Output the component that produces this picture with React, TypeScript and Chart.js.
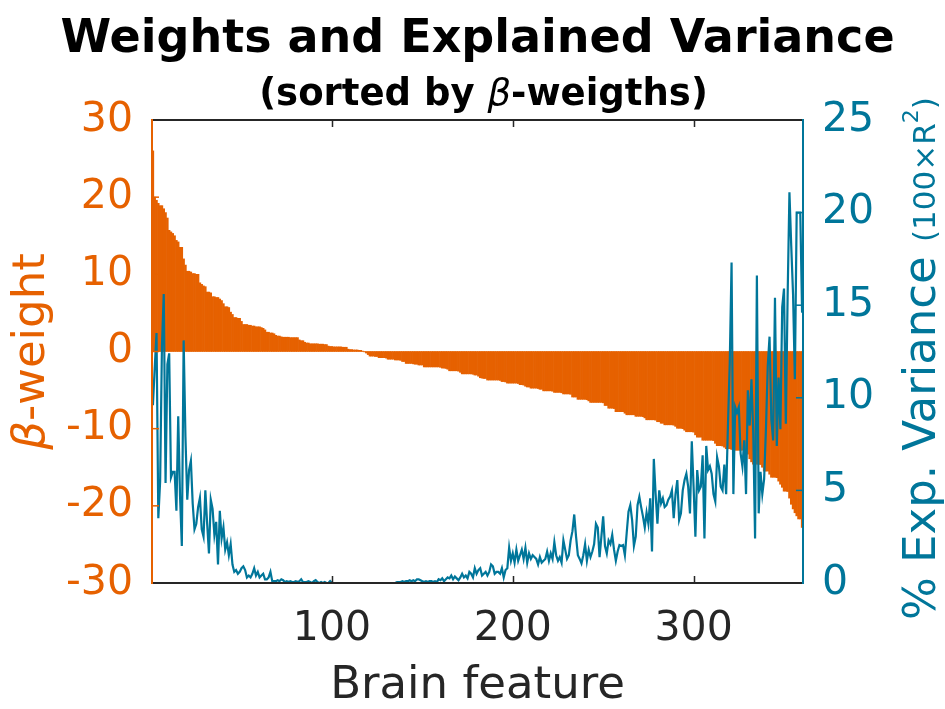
import React, { useEffect, useRef } from 'react';
import { Chart, registerables } from 'chart.js';

Chart.register(...registerables);

const W = 945;
const H = 709;
const ORANGE = '#E66100';
const TEAL = '#00769A';
const DARK = '#262626';
const FONT = '"DejaVu Sans", "Liberation Sans", sans-serif';

// beta-weights per brain feature, sorted descending
const betaWeights = [
  26.0, 20.0, 19.6, 19.2, 18.9, 18.9, 18.5, 18.0, 17.3, 15.7, 15.5, 15.3, 15.0, 14.4, 14.2, 13.5, 13.5, 12.0, 11.2, 10.4,
  10.4, 10.3, 10.1, 10.1, 10.0, 10.0, 8.9, 8.7, 8.5, 8.4, 7.7, 7.7, 7.6, 7.1, 7.1, 7.0, 7.0, 6.8, 6.6, 6.2,
  5.8, 5.8, 5.7, 5.1, 4.8, 4.4, 4.4, 4.3, 4.3, 3.9, 3.5, 3.5, 3.5, 3.4, 3.4, 3.3, 3.3, 3.2, 3.2, 3.2,
  3.1, 3.0, 2.8, 2.5, 2.5, 2.4, 2.4, 2.3, 2.1, 2.0, 2.0, 1.9, 1.85, 1.85, 1.85, 1.85, 1.8, 1.8, 1.8, 1.8,
  1.8, 1.5, 1.4, 1.4, 1.2, 1.1, 1.1, 1.0, 1.0, 1.0, 1.0, 1.0, 0.95, 0.95, 0.95, 0.9, 0.9, 0.7, 0.65, 0.65,
  0.6, 0.6, 0.6, 0.6, 0.6, 0.55, 0.55, 0.55, 0.3, 0.25, 0.25, 0.2, 0.2, 0.2, 0.15, 0.15, 0.05, -0.05, -0.2, -0.4,
  -0.6, -0.6, -0.6, -0.65, -0.65, -0.8, -0.8, -0.8, -0.8, -0.85, -1.0, -1.0, -1.0, -1.0, -1.1, -1.1, -1.1, -1.15, -1.3, -1.3,
  -1.55, -1.55, -1.55, -1.55, -1.6, -1.65, -1.65, -1.75, -1.75, -1.75, -2.0, -2.0, -2.0, -2.0, -2.0, -2.0, -2.0, -2.0, -2.0, -2.05,
  -2.15, -2.15, -2.2, -2.3, -2.5, -2.5, -2.5, -2.5, -2.5, -2.55, -2.7, -2.9, -2.9, -2.9, -2.9, -2.9, -2.9, -2.95, -3.05, -3.05,
  -3.2, -3.4, -3.45, -3.5, -3.5, -3.7, -3.7, -3.7, -3.7, -3.7, -3.7, -3.7, -3.75, -3.9, -3.9, -3.95, -4.1, -4.1, -4.1, -4.1,
  -4.1, -4.1, -4.15, -4.3, -4.3, -4.35, -4.5, -4.6, -4.6, -4.75, -4.75, -4.75, -4.75, -4.8, -4.9, -4.9, -5.1, -5.1, -5.1, -5.1,
  -5.1, -5.15, -5.3, -5.3, -5.3, -5.3, -5.35, -5.5, -5.5, -5.5, -5.5, -5.55, -5.9, -5.9, -5.9, -6.2, -6.2, -6.2, -6.2, -6.2,
  -6.25, -6.4, -6.6, -6.6, -6.6, -6.6, -6.6, -6.6, -6.6, -6.65, -7.0, -7.0, -7.35, -7.35, -7.35, -7.4, -7.8, -7.8, -7.8, -7.8,
  -7.8, -8.0, -8.2, -8.2, -8.2, -8.2, -8.2, -8.4, -8.4, -8.4, -8.4, -8.45, -8.6, -8.85, -8.85, -8.85, -8.85, -8.85, -8.9, -9.1,
  -9.1, -9.3, -9.3, -9.5, -9.5, -9.5, -9.5, -9.5, -9.55, -9.7, -9.95, -9.95, -9.95, -10.0, -10.2, -10.4, -10.4, -10.4, -10.4, -10.45,
  -10.8, -11.1, -11.1, -11.1, -11.5, -11.5, -11.5, -11.5, -11.5, -11.5, -11.55, -11.9, -12.2, -12.2, -12.2, -12.25, -12.4, -12.6, -12.6, -12.6,
  -12.7, -12.8, -12.8, -12.8, -12.8, -12.8, -12.8, -12.8, -12.85, -13.3, -13.9, -14.3, -14.6, -14.6, -14.6, -14.6, -14.65, -15.0, -15.5, -15.5,
  -15.5, -15.9, -16.3, -16.3, -16.3, -16.35, -16.8, -17.2, -17.6, -18.1, -18.1, -18.15, -19.0, -19.8, -20.4, -20.9, -21.3, -21.7, -21.7, -22.8,
];

// % explained variance (100 x R^2) per brain feature, same order
const explainedVariance = [
  9.6, 11.6, 13.5, 3.5, 5.5, 12.8, 15.6, 5.4, 11.8, 12.4, 5.7, 6.0, 6.0, 3.9, 9.0, 4.7, 2.0, 13.1, 7.9, 4.5,
  6.1, 6.6, 4.3, 2.9, 3.2, 4.1, 4.6, 2.9, 2.5, 5.0, 3.2, 1.6, 4.5, 4.0, 2.6, 3.3, 1.0, 3.9, 2.4, 3.0,
  1.8, 2.2, 1.5, 2.1, 1.0, 0.6, 0.7, 0.5, 0.6, 0.8, 0.9, 0.7, 0.3, 0.4, 0.3, 0.5, 0.8, 0.4, 0.6, 0.3,
  0.4, 0.5, 0.2, 0.2, 0.3, 0.6, 0.1, 0.1, 0.1, 0.15, 0.1, 0.2, 0.15, 0.05, 0.1, 0.05, 0.1, 0.05, 0.05, 0.1,
  0.05, 0.1, 0.2, 0.05, 0.05, 0.05, 0.1, 0.05, 0, 0.1, 0.15, 0.05, 0, 0.05, 0, 0.05, 0, 0, 0.1, 0,
  0, 0, 0, 0, 0, 0, 0, 0, 0, 0, 0, 0, 0, 0, 0, 0, 0, 0, 0, 0,
  0, 0, 0, 0, 0, 0, 0, 0, 0, 0, 0, 0, 0, 0, 0, 0.05, 0.05, 0.05, 0.1, 0.05,
  0.1, 0.1, 0.15, 0.1, 0.15, 0.1, 0.2, 0.2, 0.15, 0.1, 0.05, 0.1, 0.05, 0.1, 0.1, 0.05, 0.1, 0.05, 0.2, 0.15,
  0.25, 0.1, 0.2, 0.3, 0.25, 0.4, 0.2, 0.35, 0.25, 0.15, 0.3, 0.5, 0.3, 0.4, 0.25, 0.6, 0.5, 0.3, 0.8, 0.5,
  0.7, 0.8, 0.4, 0.5, 0.6, 0.4, 0.6, 1.0, 0.9, 0.5, 0.6, 0.6, 0.5, 0.8, 0.3, 0.7, 0.8, 1.9, 1.2, 1.6,
  1.1, 1.8, 1.2, 1.5, 1.8, 1.3, 1.9, 1.1, 1.6, 1.3, 1.5, 1.4, 1.3, 1.0, 1.4, 1.1, 1.2, 1.3, 1.7, 1.2,
  1.6, 1.3, 2.2, 1.5, 1.2, 1.4, 1.1, 2.3, 1.8, 1.3, 1.5, 2.3, 2.8, 3.7, 2.5, 1.5, 1.3, 1.06, 1.5, 2.1,
  1.2, 1.8, 1.4, 1.7, 2.1, 3.2, 3.0, 1.4, 2.5, 3.6, 2.0, 1.6, 2.3, 2.1, 2.6, 1.8, 1.2, 1.7, 2.05, 2.0,
  2.05, 1.5, 2.7, 3.85, 4.2, 3.4, 2.0, 2.5, 4.2, 4.66, 4.1, 3.6, 3.0, 3.8, 3.2, 4.57, 1.7, 6.7, 4.8, 3.2,
  5.0, 4.3, 4.57, 4.1, 4.2, 4.5, 4.66, 5.0, 3.5, 4.8, 5.56, 3.4, 3.76, 5.0, 5.56, 5.9, 5.2, 3.76, 7.65, 5.2,
  2.5, 6.1, 5.0, 5.2, 6.9, 2.4, 7.4, 6.1, 6.3, 5.9, 4.8, 4.4, 6.8, 6.3, 5.2, 5.0, 6.4, 4.8, 8.5, 11.9,
  17.3, 4.8, 9.5, 9.2, 9.5, 7.0, 6.3, 7.7, 4.8, 10.4, 8.5, 11.0, 8.1, 2.4, 16.6, 3.76, 6.0, 4.8, 5.6, 8.3,
  11.7, 13.3, 8.8, 7.7, 15.4, 7.4, 11.1, 8.3, 14.9, 15.9, 8.6, 15.5, 21.1, 18.2, 15.6, 11.0, 20.0, 20.0, 20.0, 14.6,
];

const featureIndex = betaWeights.map((_, i) => i + 1);
const xTickValues = [100, 200, 300];
const leftTickValues = [-30, -20, -10, 0, 10, 20, 30];
const rightTickValues = [0, 5, 10, 15, 20, 25];

const titleText = 'Weights and Explained Variance';
const xLabelText = 'Brain feature';

const TICK_FONT = 41;
const LABEL_FONT = 45;

const decorPlugin = {
  id: 'decor',
  afterDatasetsDraw(chart: any) {
    const { ctx, chartArea: a, scales } = chart;
    const tl = 7;
    ctx.save();
    ctx.lineWidth = 1.5;
    ctx.strokeStyle = DARK;
    xTickValues.forEach((v) => {
      const px = Math.round(scales.x.getPixelForValue(v)) + 0.5;
      ctx.beginPath();
      ctx.moveTo(px, a.bottom);
      ctx.lineTo(px, a.bottom - tl);
      ctx.moveTo(px, a.top);
      ctx.lineTo(px, a.top + tl);
      ctx.stroke();
    });
    ctx.strokeStyle = ORANGE;
    leftTickValues.forEach((v) => {
      const py = scales.yL.getPixelForValue(v);
      ctx.beginPath();
      ctx.moveTo(a.left, py);
      ctx.lineTo(a.left + tl, py);
      ctx.stroke();
    });
    ctx.strokeStyle = TEAL;
    rightTickValues.forEach((v) => {
      const py = scales.yR.getPixelForValue(v);
      ctx.beginPath();
      ctx.moveTo(a.right, py);
      ctx.lineTo(a.right - tl, py);
      ctx.stroke();
    });
    ctx.lineWidth = 2;
    ctx.strokeStyle = DARK;
    ctx.beginPath();
    ctx.moveTo(a.left, a.top);
    ctx.lineTo(a.right, a.top);
    ctx.moveTo(a.left, a.bottom);
    ctx.lineTo(a.right, a.bottom);
    ctx.stroke();
    ctx.strokeStyle = ORANGE;
    ctx.beginPath();
    ctx.moveTo(a.left, a.top - 1);
    ctx.lineTo(a.left, a.bottom + 1);
    ctx.stroke();
    ctx.strokeStyle = TEAL;
    ctx.beginPath();
    ctx.moveTo(a.right, a.top - 1);
    ctx.lineTo(a.right, a.bottom + 1);
    ctx.stroke();
    ctx.restore();
  },
  afterDraw(chart: any) {
    const { ctx, chartArea: a } = chart;
    const cx = (a.left + a.right) / 2;
    const cy = (a.top + a.bottom) / 2;
    ctx.save();
    ctx.textBaseline = 'alphabetic';
    // main title
    ctx.fillStyle = '#000';
    ctx.textAlign = 'center';
    ctx.font = `bold 46px ${FONT}`;
    ctx.fillText(titleText, cx, 52);
    // subtitle with italic beta
    const subParts: [string, string][] = [
      ['(sorted by ', `bold 37px ${FONT}`],
      ['β', `italic 37px ${FONT}`],
      ['-weigths)', `bold 37px ${FONT}`],
    ];
    ctx.textAlign = 'left';
    let total = 0;
    subParts.forEach(([t, f]) => { ctx.font = f; total += ctx.measureText(t).width; });
    let sx = cx - total / 2 + 6;
    subParts.forEach(([t, f]) => { ctx.font = f; ctx.fillText(t, sx, 105); sx += ctx.measureText(t).width; });

    // x label
    ctx.fillStyle = DARK;
    ctx.textAlign = 'center';
    ctx.font = `${LABEL_FONT}px ${FONT}`;
    ctx.fillText(xLabelText, cx, 698);

    // left y label (rotated)
    const leftParts: [string, string][] = [
      ['β', `italic ${LABEL_FONT}px ${FONT}`],
      ['-weight', `${LABEL_FONT}px ${FONT}`],
    ];
    ctx.save();
    ctx.translate(44, cy);
    ctx.rotate(-Math.PI / 2);
    ctx.fillStyle = ORANGE;
    ctx.textAlign = 'left';
    total = 0;
    leftParts.forEach(([t, f]) => { ctx.font = f; total += ctx.measureText(t).width; });
    sx = -total / 2;
    leftParts.forEach(([t, f]) => { ctx.font = f; ctx.fillText(t, sx, 0); sx += ctx.measureText(t).width; });
    ctx.restore();

    // right y label (rotated)
    const rightParts: [string, string, number][] = [
      ['% Exp. Variance ', `${LABEL_FONT}px ${FONT}`, 0],
      ['(100×R', `31px ${FONT}`, 0],
      ['2', `22px ${FONT}`, -17],
      [')', `31px ${FONT}`, 0],
    ];
    ctx.save();
    ctx.translate(935, 620);
    ctx.rotate(-Math.PI / 2);
    ctx.fillStyle = TEAL;
    ctx.textAlign = 'left';
    sx = 0;
    rightParts.forEach(([t, f, dy]) => { ctx.font = f; ctx.fillText(t, sx, dy); sx += ctx.measureText(t).width; });
    ctx.restore();

    ctx.restore();
  },
};

export default function App() {
  const canvasRef = useRef<HTMLCanvasElement | null>(null);

  useEffect(() => {
    const canvas = canvasRef.current;
    if (!canvas) return;
    const chart = new Chart(canvas, {
      type: 'bar',
      data: {
        datasets: [
          {
            type: 'line',
            label: 'Explained variance',
            data: explainedVariance.map((v, i) => ({ x: featureIndex[i], y: v })),
            xAxisID: 'x',
            yAxisID: 'yR',
            borderColor: TEAL,
            borderWidth: 2.2,
            pointRadius: 0,
            tension: 0,
            fill: false,
            order: 0,
          } as any,
          {
            type: 'bar',
            label: 'beta-weight',
            data: betaWeights.map((v, i) => ({ x: featureIndex[i], y: v })),
            xAxisID: 'x',
            yAxisID: 'yL',
            backgroundColor: ORANGE,
            borderWidth: 0,
            barPercentage: 1,
            categoryPercentage: 1,
            order: 1,
          } as any,
        ],
      },
      options: {
        responsive: false,
        maintainAspectRatio: false,
        animation: false,
        devicePixelRatio: 1,
        layout: { padding: { top: 120, left: 0, right: 0, bottom: 0 } },
        plugins: {
          legend: { display: false },
          tooltip: { enabled: false },
          title: { display: false },
        },
        scales: {
          x: {
            type: 'linear',
            position: 'bottom',
            min: 0.5,
            max: 360.5,
            offset: false,
            grid: { display: false, drawTicks: false },
            border: { display: false },
            ticks: {
              color: DARK,
              font: { family: FONT, size: TICK_FONT },
              padding: 22,
              maxRotation: 0,
              autoSkip: false,
            },
            afterBuildTicks: (s: any) => { s.ticks = xTickValues.map((v) => ({ value: v })); },
            afterFit: (s: any) => { s.height = 126; },
          },
          yL: {
            type: 'linear',
            position: 'left',
            min: -30,
            max: 30,
            grid: { display: false, drawTicks: false },
            border: { display: false },
            ticks: {
              color: ORANGE,
              font: { family: FONT, size: TICK_FONT },
              padding: 19,
              callback: (v: any) => String(v),
            },
            afterBuildTicks: (s: any) => { s.ticks = leftTickValues.map((v) => ({ value: v })); },
            afterFit: (s: any) => { s.width = 152; },
          },
          yR: {
            type: 'linear',
            position: 'right',
            min: 0,
            max: 25,
            grid: { display: false, drawTicks: false },
            border: { display: false },
            ticks: {
              color: TEAL,
              font: { family: FONT, size: TICK_FONT },
              padding: 19,
            },
            afterBuildTicks: (s: any) => { s.ticks = rightTickValues.map((v) => ({ value: v })); },
            afterFit: (s: any) => { s.width = W - 803; },
          },
        },
      } as any,
      plugins: [decorPlugin],
    });
    return () => chart.destroy();
  }, []);

  return (
    <div style={{ position: 'fixed', left: 0, top: 0, width: W, height: H, background: '#fff' }}>
      <canvas ref={canvasRef} width={W} height={H} style={{ width: W, height: H, display: 'block' }} />
    </div>
  );
}
